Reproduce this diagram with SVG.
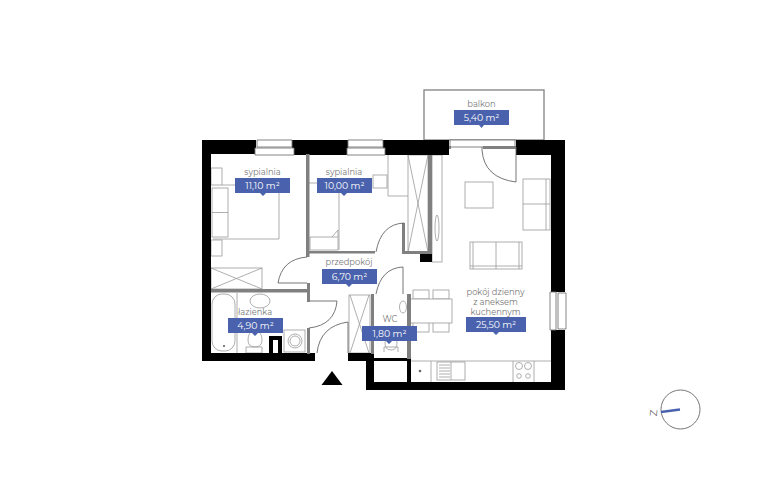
<svg xmlns="http://www.w3.org/2000/svg" width="768" height="480" viewBox="0 0 768 480">
<style>
.w{fill:#000}
.g{fill:#808080}
.f{fill:#fff;stroke:#9a9a9a;stroke-width:.8}
.l{fill:none;stroke:#9a9a9a;stroke-width:.8}
.d{fill:none;stroke:#666;stroke-width:.9}
.win{fill:#fff;stroke:#777;stroke-width:.9}
.t{font-family:"Montserrat","Liberation Sans",Arial,sans-serif;font-size:8.3px;fill:#777;text-anchor:middle}
.a{font-family:"Montserrat","Liberation Sans",Arial,sans-serif;font-size:9.3px;fill:#fff;text-anchor:middle}
.b{fill:#4a62ad}
</style>
<rect width="768" height="480" fill="#fff"/>
<g id="furniture">
<rect x="424" y="90" width="120" height="50" style="fill:none;stroke:#8a8a8a;stroke-width:1.4"/>
<rect class="l" x="211" y="168" width="11" height="17"/>
<path class="l" d="M222 185H279V239H213"/>
<rect class="f" x="212" y="188" width="16" height="49"/>
<path class="l" d="M212 212.500H228"/>
<rect class="l" x="211" y="240" width="11" height="16"/>
<rect class="l" x="211" y="268" width="51" height="21"/>
<path class="l" d="M211 268L262 289M262 268L211 289"/>
<path class="l" d="M309 183H339V250"/>
<path class="l" d="M310 237H338V250H310ZM332 237L338 230V237"/>
<rect class="l" x="373" y="175" width="14" height="13"/>
<path class="l" d="M388 155V196H408"/>
<rect class="l" x="408" y="155" width="20" height="97"/>
<path class="l" d="M408 155L428 252M428 155L408 252"/>
<rect class="l" x="432" y="155" width="10" height="107"/>
<ellipse class="l" cx="437" cy="228" rx="2" ry="13"/>
<rect class="w" x="420" y="254" width="12" height="8"/>
<rect class="l" x="465" y="182" width="28" height="26"/>
<rect class="l" x="523" y="179" width="27" height="51"/>
<path class="l" d="M523 204H550M546 179V230"/>
<rect class="l" x="470" y="242" width="52" height="27"/>
<path class="l" d="M496 242V269M470 266H522M473 242V269M519 242V269"/>
<rect class="l" x="413" y="290" width="16" height="9"/>
<rect class="l" x="433" y="290" width="16" height="9"/>
<rect class="l" x="413" y="322" width="16" height="10"/>
<rect class="l" x="433" y="322" width="16" height="10"/>
<rect class="f" x="410" y="299" width="42" height="24"/>
<ellipse class="l" cx="403" cy="307" rx="3.500" ry="6"/>
<path class="l" d="M410 361H551M431 361V382M513 361V382M534 361V382"/>
<rect class="l" x="437" y="362" width="28" height="18"/>
<path class="l" d="M451 362V380M439 365H450M439 368H450M439 371H450M439 374H450M439 377H450"/>
<circle cx="420" cy="371" r="1.300" fill="#666"/>
<circle class="l" cx="519" cy="366" r="3.500"/><circle class="l" cx="528" cy="366" r="3.500"/>
<circle class="l" cx="519" cy="376" r="2.300"/><circle class="l" cx="528" cy="376" r="2.300"/>
<path class="l" d="M237 293V353"/>
<rect class="l" x="212" y="294" width="23" height="57" rx="10"/>
<circle cx="224" cy="346" r="1" fill="#555"/>
<ellipse class="l" cx="260" cy="301" rx="10" ry="7"/>
<path class="l" d="M248 340Q248 331 255 331Q262 331 262 340Q262 347 255 347Q248 347 248 340ZM246 347H262V353H246Z"/>
<rect class="w" x="269" y="336" width="13" height="17"/>
<rect x="273" y="340" width="5" height="13" fill="#fff"/>
<rect class="f" x="284" y="330" width="21" height="22"/>
<circle class="l" cx="295" cy="341" r="7"/><circle class="l" cx="295" cy="341" r="5"/>
<rect class="l" x="349" y="295" width="21" height="58"/>
<path class="l" d="M350 295L369 353M369 295L350 353"/>
<path class="l" d="M385 343Q385 337 391 337Q397 337 397 343Q397 350 391 350Q385 350 385 343ZM384 352V347H398V352"/>
</g>
<g id="walls">
<path class="w" d="M202 140H256V154H211V361H202ZM292 140H348V155H292ZM383 140H449V155H383ZM516 140H565V292H551V155H516ZM551 330H565V390H366V353H374V382H551Z"/>
<rect class="w" x="202" y="353" width="113" height="8"/>
<rect class="w" x="348" y="353" width="25" height="8"/>
<rect class="w" x="373" y="358" width="37" height="3"/>
<rect class="w" x="407" y="358" width="4" height="24"/>
</g>
<g id="inner-walls">
<rect class="g" x="306" y="154" width="3.500" height="103"/>
<rect class="g" x="309" y="251" width="66" height="2.500"/>
<rect class="g" x="402" y="223" width="3" height="31"/>
<rect class="g" x="402" y="251" width="30" height="3"/>
<rect class="g" x="428" y="155" width="4" height="99"/>
<rect class="g" x="211" y="289" width="96" height="3.500"/>
<rect class="g" x="307" y="283" width="3" height="19"/>
<rect class="g" x="307" y="328" width="3" height="26"/>
<rect class="g" x="371" y="294" width="3" height="60"/>
<rect class="g" x="407" y="294" width="4" height="65"/>
</g>
<g id="windows">
<path class="win" d="M257 140H292V147H257ZM255 148H294V155H255Z"/>
<path class="win" d="M348 140H383V147H348ZM347 148H385V155H347Z"/>
<rect class="win" x="450" y="140" width="65" height="7"/>
<rect class="g" x="449" y="146" width="2" height="3"/>
<rect class="g" x="483" y="146" width="33" height="3"/>
<path class="win" d="M550 292H556V330H550ZM558 293H566V329H558Z"/>
</g>
<g id="doors">
<path class="d" d="M482 147V150Q484 178 516 182V147"/>
<path class="d" d="M404 223Q381 224 376 252"/>
<path class="d" d="M307 257Q282 259 278 283H307"/>
<path class="d" d="M310 301H337Q335 325 309 328"/>
<path class="d" d="M348 353V322Q320 326 317 353"/>
<path class="d" d="M403 294V267Q381 268 376 294"/>
</g>
<g id="n1"><text class="t" x="262.500" y="175">sypialnia</text><path class="b" d="M235 178H290V193H266L263 196L260 193H235Z"/><text class="a" x="262.500" y="188.500">11,10 m²</text></g>
<g id="n2"><text class="t" x="344" y="175">sypialnia</text><path class="b" d="M317 178H372V193H347L344 196L341 193H317Z"/><text class="a" x="344.500" y="188.500">10,00 m²</text></g>
<g id="n3"><text class="t" x="349" y="265">przedpokój</text><path class="b" d="M322 269H377V284H352L349 287L346 284H322Z"/><text class="a" x="349.500" y="280">6,70 m²</text></g>
<g id="n4"><text class="t" x="255" y="315">łazienka</text><path class="b" d="M228 318H283V333H258L255 336L252 333H228Z"/><text class="a" x="255.500" y="329">4,90 m²</text></g>
<g id="n5"><text class="t" x="390" y="322">WC</text><path class="b" d="M362 326H417V341H392L389 344L386 341H362Z"/><text class="a" x="389.500" y="336.500">1,80 m²</text></g>
<g id="n6"><text class="t" x="481.500" y="107">balkon</text><path class="b" d="M454 110H509V125H484L481.500 128L479 125H454Z"/><text class="a" x="481.500" y="120.500">5,40 m²</text></g>
<g id="n7"><text class="t" x="495.500" y="295">pokój dzienny</text><text class="t" x="495.500" y="304.500">z aneksem</text><text class="t" x="495.500" y="314.500">kuchennym</text><path class="b" d="M466 317H526V332H499L496 335L493 332H466Z"/><text class="a" x="496" y="328">25,50 m²</text></g>
<path id="entrance" d="M332 371L342.500 385H321.500Z" fill="#000"/>
<g id="compass"><circle cx="680.500" cy="409.500" r="19.500" fill="#fff" stroke="#777" stroke-width="1"/><path d="M661 412L680 409.500" stroke="#4a62ad" stroke-width="2.500"/><text x="653.500" y="413" font-family="Montserrat,Liberation Sans,sans-serif" font-size="10" fill="#666" text-anchor="middle" transform="rotate(-85 653.500 413)" dy="3.500">Z</text></g>
</svg>
